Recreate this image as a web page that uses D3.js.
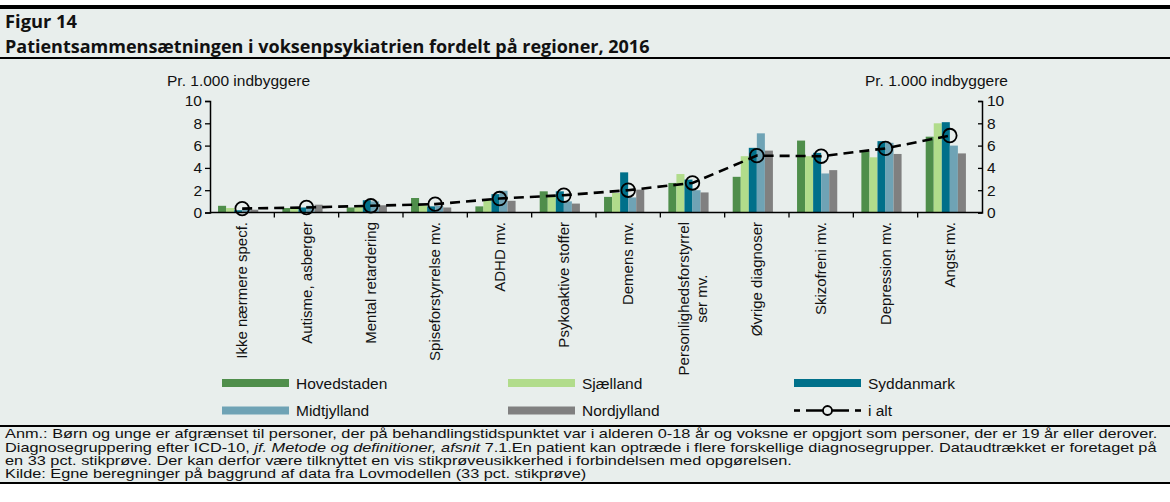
<!DOCTYPE html>
<html>
<head>
<meta charset="utf-8">
<script src="https://cdn.jsdelivr.net/npm/d3@7"></script>
<style>
  body { margin: 0; background: #fff; }
  text { font-family: "Liberation Sans", Arial, sans-serif; fill: #111; }
</style>
</head>
<body>
<div id="chart"></div>
<script>
// categories on the x axis
const categories = ["Ikke nærmere specf.", "Autisme, asberger", "Mental retardering", "Spiseforstyrrelse mv.",
  "ADHD mv.", "Psykoaktive stoffer", "Demens mv.", "Personlighedsforstyrrelser mv.",
  "Øvrige diagnoser", "Skizofreni mv.", "Depression mv.", "Angst mv."];
const regions = ["Hovedstaden", "Sjælland", "Syddanmark", "Midtjylland", "Nordjylland"];
const regionColors = ["#4f8e4b", "#b1dc8b", "#00708a", "#6fa3b5", "#808080"];

// per 1.000 inhabitants
const hovedstaden = [0.6, 0.4, 0.45, 1.3, 0.55, 1.9, 1.4, 2.65, 3.2, 6.45, 5.45, 6.8];
const sjaelland   = [0.4, 0.45, 0.55, 0.65, 1.15, 1.55, 1.75, 3.45, 5.05, 5.05, 4.95, 8.0];
const syddanmark  = [0.2, 0.45, 1.1, 0.55, 1.65, 1.9, 3.6, 2.95, 5.8, 5.35, 6.4, 8.1];
const midtjylland = [0.3, 0.6, 1.0, 0.6, 1.95, 1.0, 1.35, 2.0, 7.1, 3.5, 6.25, 6.0];
const nordjylland = [0.25, 0.7, 0.65, 0.45, 1.05, 0.8, 2.05, 1.8, 5.55, 3.8, 5.25, 5.3];
const iAlt        = [0.35, 0.45, 0.6, 0.75, 1.25, 1.55, 2.0, 2.65, 5.1, 5.05, 5.75, 6.9];
const seriesValues = [hovedstaden, sjaelland, syddanmark, midtjylland, nordjylland];

const yTicks = [0, 2, 4, 6, 8, 10];
const axisTitle = "Pr. 1.000 indbyggere";

const W = 1170, H = 502;
const bg = "#e8eeec";

const svg = d3.select("#chart").append("svg")
  .attr("width", W)
  .attr("height", H);

// background panel and rules
svg.append("rect").attr("x", 0).attr("y", 9).attr("width", W).attr("height", 475).attr("fill", bg);
svg.append("rect").attr("x", 0).attr("y", 5).attr("width", W).attr("height", 4).attr("fill", "#000");
svg.append("rect").attr("x", 0).attr("y", 57).attr("width", W).attr("height", 2).attr("fill", "#000");
svg.append("rect").attr("x", 0).attr("y", 425).attr("width", W).attr("height", 2).attr("fill", "#000");
svg.append("rect").attr("x", 0).attr("y", 482).attr("width", W).attr("height", 2).attr("fill", "#000");

// fit a text element to a given width by adjusting font-size
function fitWidth(sel, target) {
  const fs = parseFloat(sel.attr("font-size"));
  const w = sel.node().getComputedTextLength();
  sel.attr("font-size", fs * target / w);
}

const titleFont = "'Open Sans', 'Noto Sans', sans-serif";
const fig = svg.append("text").attr("x", 5).attr("y", 28)
  .attr("font-weight", "bold").attr("font-size", 16)
  .style("font-family", titleFont)
  .text("Figur 14");
fitWidth(fig, 72);
const subtitle = svg.append("text").attr("x", 5).attr("y", 53)
  .attr("font-weight", "bold").attr("font-size", 15.5)
  .style("font-family", titleFont)
  .text("Patientsammensætningen i voksenpsykiatrien fordelt på regioner, 2016");
fitWidth(subtitle, 645);

// scales
const x = d3.scaleBand().domain(categories).range([210, 982]);
const x1 = d3.scaleBand().domain(regions.concat(["_"])).range([0, x.bandwidth()]).paddingOuter(1.0);
const y = d3.scaleLinear().domain([0, 10]).range([212.5, 101]);

// bars
regions.forEach((r, i) => {
  svg.append("g").selectAll("rect")
    .data(seriesValues[i])
    .join("rect")
    .attr("x", (d, j) => x(categories[j]) + x1(r))
    .attr("y", d => y(d))
    .attr("width", x1.bandwidth())
    .attr("height", d => y(0) - y(d))
    .attr("fill", regionColors[i]);
});

// i alt line
const line = d3.line()
  .x((d, j) => x(categories[j]) + x.bandwidth() / 2)
  .y(d => y(d));
svg.append("path")
  .datum(iAlt)
  .attr("d", line)
  .attr("fill", "none")
  .attr("stroke", "#000")
  .attr("stroke-width", 2.6)
  .attr("stroke-dasharray", "10,6");
svg.append("g").selectAll("circle")
  .data(iAlt)
  .join("circle")
  .attr("cx", (d, j) => x(categories[j]) + x.bandwidth() / 2)
  .attr("cy", d => y(d))
  .attr("r", 6.8)
  .attr("fill", "none")
  .attr("stroke", "#000")
  .attr("stroke-width", 1.8);

// y axes
const leftAxis = svg.append("g")
  .attr("transform", "translate(210,0)")
  .call(d3.axisLeft(y).tickValues(yTicks).tickSize(5).tickPadding(3));
const rightAxis = svg.append("g")
  .attr("transform", "translate(982,0)")
  .call(d3.axisRight(y).tickValues(yTicks).tickSize(-4).tickPadding(5));
[leftAxis, rightAxis].forEach(g => {
  g.select(".domain").attr("stroke", "#000").attr("stroke-width", 1.5);
  g.selectAll(".tick line").attr("stroke", "#000").attr("stroke-width", 1.3);
  g.selectAll(".tick text").attr("font-size", 15.5).style("font-family", "'Liberation Sans', Arial, sans-serif").attr("fill", "#111");
});

svg.append("text").attr("x", 167).attr("y", 86).attr("font-size", 15.5).text(axisTitle);
svg.append("text").attr("x", 1008).attr("y", 86).attr("font-size", 15.5).attr("text-anchor", "end").text(axisTitle);

// x axis line and ticks at category boundaries
svg.append("line")
  .attr("x1", x.range()[0]).attr("x2", x.range()[1])
  .attr("y1", y(0)).attr("y2", y(0))
  .attr("stroke", "#000").attr("stroke-width", 1.5);
svg.append("g").selectAll("line")
  .data(categories.slice(1))
  .join("line")
  .attr("x1", d => x(d)).attr("x2", d => x(d))
  .attr("y1", y(0)).attr("y2", y(0) + 5)
  .attr("stroke", "#000").attr("stroke-width", 1.3);

// rotated category labels
const labelTop = 222;
categories.forEach(c => {
  const cx = x(c) + x.bandwidth() / 2;
  if (c === "Personlighedsforstyrrelser mv.") {
    const t = svg.append("text")
      .attr("transform", `translate(${cx},${labelTop}) rotate(-90)`)
      .attr("font-size", 15);
    const first = t.append("tspan").attr("x", 0).attr("y", -3.5).attr("text-anchor", "end").text("Personlighedsforstyrrel");
    const w = first.node().getComputedTextLength();
    t.append("tspan").attr("x", -w / 2).attr("y", 14.5).attr("text-anchor", "middle").text("ser mv.");
  } else {
    svg.append("text")
      .attr("transform", `translate(${cx + 5},${labelTop}) rotate(-90)`)
      .attr("font-size", 15)
      .attr("text-anchor", "end")
      .text(c);
  }
});

// legend
const legendCols = [222, 508, 794];
const legendRows = [383, 410.5];
const legendItems = regions.map((r, i) => ({ name: r, color: regionColors[i] }));
legendItems.push({ name: "i alt", color: null });
legendItems.forEach((item, i) => {
  const lx = legendCols[i % 3];
  const ly = legendRows[Math.floor(i / 3)];
  if (item.color) {
    svg.append("rect").attr("x", lx).attr("y", ly - 4).attr("width", 67).attr("height", 8).attr("fill", item.color);
  } else {
    [[0, 6], [12, 55], [61, 67]].forEach(s => {
      svg.append("line").attr("x1", lx + s[0]).attr("x2", lx + s[1]).attr("y1", ly).attr("y2", ly)
        .attr("stroke", "#000").attr("stroke-width", 2.6);
    });
    svg.append("circle").attr("cx", lx + 33.5).attr("cy", ly).attr("r", 4.5)
      .attr("fill", bg).attr("stroke", "#000").attr("stroke-width", 1.8);
  }
  svg.append("text").attr("x", lx + 74).attr("y", ly + 5.5).attr("font-size", 15.5).text(item.name);
});

// notes, squeezed horizontally to the reference width
const noteSize = 12.8;
const noteY = [438, 452, 465, 478];
const notes = svg.append("g");
const n1 = notes.append("text").attr("y", noteY[0]).attr("font-size", noteSize)
  .text("Anm.: Børn og unge er afgrænset til personer, der på behandlingstidspunktet var i alderen 0-18 år og voksne er opgjort som personer, der er 19 år eller derover.");
const n2 = notes.append("text").attr("y", noteY[1]).attr("font-size", noteSize);
n2.append("tspan").text("Diagnosegruppering efter ICD-10, ");
n2.append("tspan").attr("font-style", "italic").text("jf. Metode og definitioner, afsnit ");
n2.append("tspan").text("7.1.En patient kan optræde i flere forskellige diagnosegrupper. Dataudtrækket er foretaget på");
notes.append("text").attr("y", noteY[2]).attr("font-size", noteSize)
  .text("en 33 pct. stikprøve. Der kan derfor være tilknyttet en vis stikprøveusikkerhed i forbindelsen med opgørelsen.");
notes.append("text").attr("y", noteY[3]).attr("font-size", noteSize)
  .text("Kilde: Egne beregninger på baggrund af data fra Lovmodellen (33 pct. stikprøve)");
const sx = 1153 / n1.node().getComputedTextLength();
notes.attr("transform", `translate(5,0) scale(${sx},1)`);
</script>
</body>
</html>
